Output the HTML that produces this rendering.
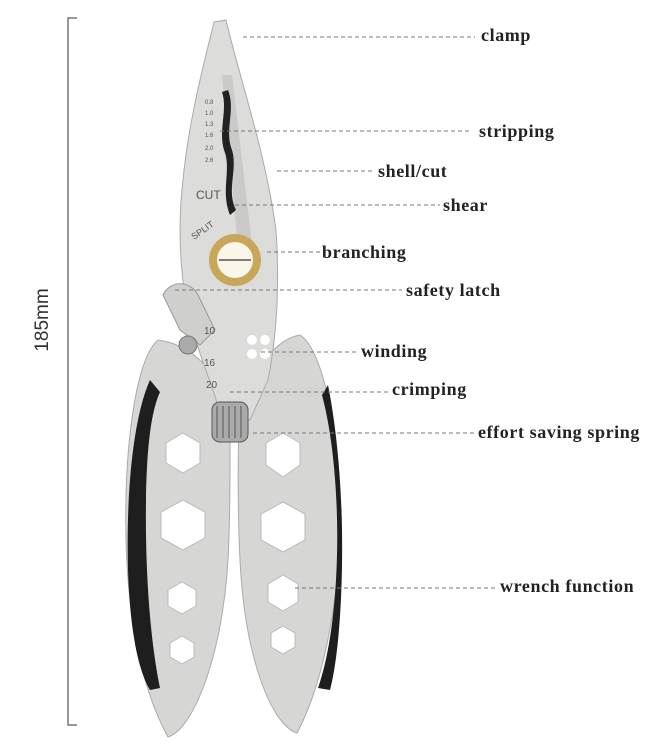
<!DOCTYPE html>
<html><head><meta charset="utf-8"><style>
html,body{margin:0;padding:0;background:#fff;}
svg{display:block;}
.l{font-family:"Liberation Serif",serif;font-size:18px;font-weight:bold;fill:#222;letter-spacing:0.6px;}
.d{stroke:#777;stroke-width:1;stroke-dasharray:4 3;fill:none;}
</style></head><body>
<svg width="653" height="746" viewBox="0 0 653 746" xmlns="http://www.w3.org/2000/svg">
<!-- scale bar -->
<path d="M77 18 H68 V725 H77" stroke="#777" stroke-width="1.5" fill="none"/>
<text x="48" y="320" transform="rotate(-90 48 320)" text-anchor="middle" style="font-family:'Liberation Sans',sans-serif;font-size:19px;fill:#333;">185mm</text>

<!-- handles -->
<path d="M158 340 C135 360 124 450 126 540 C128 620 142 690 168 737 C192 730 222 660 228 560 C232 480 228 430 232 410 C218 375 195 345 158 340 Z" fill="#d6d6d4" stroke="#aaa"/>
<path d="M300 335 C325 350 343 450 340 540 C336 620 320 690 297 733 C272 725 245 660 240 560 C236 480 240 430 238 410 C252 375 272 340 300 335 Z" fill="#d6d6d4" stroke="#aaa"/>
<!-- grips -->
<path d="M150 380 C132 420 126 500 128 570 C130 630 138 670 150 690 L160 688 C150 640 145 570 146 500 C147 440 152 410 160 392 Z" fill="#1e1e1e"/>
<path d="M322 395 C334 440 340 510 336 580 C333 630 326 665 318 688 L330 690 C338 660 343 600 342 530 C341 470 335 420 328 385 Z" fill="#1e1e1e"/>
<!-- hexes -->
<g fill="#fff" stroke="#bbb">
<polygon points="183,433 200,443 200,463 183,473 166,463 166,443"/>
<polygon points="183,500 205,512 205,538 183,550 161,538 161,512"/>
<polygon points="182,582 196,590 196,606 182,614 168,606 168,590"/>
<polygon points="182,636 194,643 194,657 182,664 170,657 170,643"/>
<polygon points="283,433 300,443 300,465 283,477 266,465 266,443"/>
<polygon points="283,502 305,514 305,540 283,552 261,540 261,514"/>
<polygon points="283,575 298,584 298,602 283,611 268,602 268,584"/>
<polygon points="283,626 295,633 295,647 283,654 271,647 271,633"/>
</g>
<!-- head / jaws -->
<path d="M214 22 L226 20 C240 80 265 150 276 230 C280 290 276 340 268 380 L250 420 L222 420 C215 390 200 360 190 320 C180 280 178 230 182 190 C188 120 205 60 214 22 Z" fill="#dcdcda" stroke="#aaa"/>
<path d="M222 75 L232 75 L255 270 L240 270 Z" fill="#cacac8"/>
<!-- stripping notches -->
<path d="M228 90 C236 110 224 130 232 150 C238 170 226 190 236 210 L230 215 C220 190 232 170 224 150 C218 130 228 110 222 92 Z" fill="#222"/>
<g style="font-family:'Liberation Sans',sans-serif;font-size:6px;fill:#555;">
<text x="205" y="104">0.8</text><text x="205" y="115">1.0</text><text x="205" y="126">1.3</text><text x="205" y="137">1.6</text><text x="205" y="150">2.0</text><text x="205" y="162">2.6</text>
</g>
<text x="196" y="199" style="font-family:'Liberation Sans',sans-serif;font-size:12px;fill:#555;">CUT</text>
<text x="194" y="240" transform="rotate(-35 194 240)" style="font-family:'Liberation Sans',sans-serif;font-size:9px;fill:#555;">SPLIT</text>
<!-- brass ring -->
<circle cx="235" cy="260" r="26" fill="#c9a75a"/>
<circle cx="235" cy="260" r="18" fill="#fbf6ea"/>
<line x1="219" y1="260" x2="251" y2="260" stroke="#555" stroke-width="1.5"/>
<!-- latch -->
<path d="M163 295 C170 280 190 280 198 295 L215 330 L200 345 L180 330 Z" fill="#cfcfcd" stroke="#999"/>
<circle cx="188" cy="345" r="9" fill="#aaa" stroke="#777"/>
<!-- winding holes -->
<g fill="#fff"><circle cx="252" cy="340" r="5"/><circle cx="265" cy="340" r="5"/><circle cx="252" cy="354" r="5"/><circle cx="265" cy="354" r="5"/></g>
<g style="font-family:'Liberation Sans',sans-serif;font-size:10px;fill:#555;"><text x="204" y="334">10</text><text x="204" y="366">16</text><text x="206" y="388">20</text></g>
<!-- spring -->
<rect x="212" y="402" width="36" height="40" rx="8" fill="#aaa" stroke="#555"/>
<g stroke="#555"><line x1="217" y1="406" x2="217" y2="438"/><line x1="223" y1="406" x2="223" y2="438"/><line x1="229" y1="406" x2="229" y2="438"/><line x1="235" y1="406" x2="235" y2="438"/><line x1="241" y1="406" x2="241" y2="438"/></g>

<!-- leaders -->
<line class="d" x1="243" y1="37" x2="475" y2="37"/>
<line class="d" x1="220" y1="131" x2="472" y2="131"/>
<line class="d" x1="277" y1="171" x2="374" y2="171"/>
<line class="d" x1="235" y1="205" x2="440" y2="205"/>
<line class="d" x1="267" y1="252" x2="320" y2="252"/>
<line class="d" x1="175" y1="290" x2="402" y2="290"/>
<line class="d" x1="261" y1="352" x2="358" y2="352"/>
<line class="d" x1="230" y1="392" x2="388" y2="392"/>
<line class="d" x1="253" y1="433" x2="475" y2="433"/>
<line class="d" x1="295" y1="588" x2="498" y2="588"/>

<text class="l" x="481" y="41">clamp</text>
<text class="l" x="479" y="137">stripping</text>
<text class="l" x="378" y="177">shell/cut</text>
<text class="l" x="443" y="211">shear</text>
<text class="l" x="322" y="258">branching</text>
<text class="l" x="406" y="296">safety latch</text>
<text class="l" x="361" y="357">winding</text>
<text class="l" x="392" y="395">crimping</text>
<text class="l" x="478" y="438">effort saving spring</text>
<text class="l" x="500" y="592">wrench function</text>
</svg>
</body></html>
